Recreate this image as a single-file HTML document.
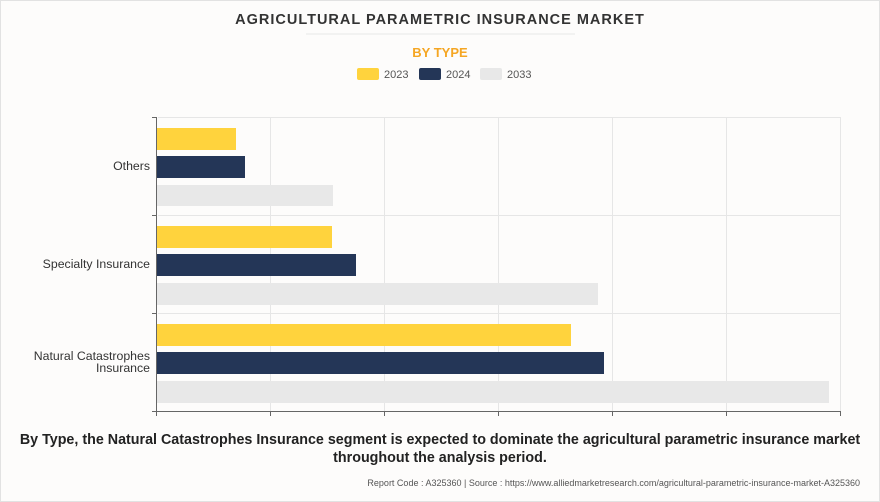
<!DOCTYPE html>
<html><head><style>
body{margin:0;background:#fff;}
.w{position:relative;width:878px;height:500px;border:1px solid #e2e2e2;background:#fdfcfb;font-family:"Liberation Sans",sans-serif;overflow:hidden}
</style></head><body><div class="w">
<svg width="878" height="500" xmlns="http://www.w3.org/2000/svg" style="position:absolute;left:0;top:0">
<text x="439" y="23" text-anchor="middle" font-size="14.5" font-weight="bold" fill="#333" letter-spacing="1" font-family="Liberation Sans">AGRICULTURAL PARAMETRIC INSURANCE MARKET</text>
<line x1="305" y1="33" x2="574" y2="33" stroke="#eee" stroke-width="1.5"/>
<text x="439" y="56" text-anchor="middle" font-size="13" font-weight="bold" fill="#f5a623" font-family="Liberation Sans">BY TYPE</text>
<rect x="356" y="67" width="22" height="12" rx="2" fill="#ffd33d"/><text x="383" y="77" font-size="11" fill="#555">2023</text>
<rect x="418" y="67" width="22" height="12" rx="2" fill="#243657"/><text x="445" y="77" font-size="11" fill="#555">2024</text>
<rect x="479" y="67" width="22" height="12" rx="2" fill="#e8e8e8"/><text x="506" y="77" font-size="11" fill="#555">2033</text>
<g stroke="#e6e6e6" stroke-width="1">
<line x1="269.5" y1="116" x2="269.5" y2="411"/><line x1="383.5" y1="116" x2="383.5" y2="411"/><line x1="497.5" y1="116" x2="497.5" y2="411"/><line x1="611.5" y1="116" x2="611.5" y2="411"/><line x1="725.5" y1="116" x2="725.5" y2="411"/><line x1="839.5" y1="116" x2="839.5" y2="411"/>
<line x1="157" y1="116.5" x2="840" y2="116.5"/><line x1="157" y1="214.5" x2="840" y2="214.5"/><line x1="157" y1="312.5" x2="840" y2="312.5"/>
</g>
<rect x="156" y="127" width="79" height="22" fill="#ffd33d"/>
<rect x="156" y="155" width="88" height="22" fill="#243657"/>
<rect x="156" y="184" width="176" height="21" fill="#e8e8e8"/>
<rect x="156" y="225" width="175" height="22" fill="#ffd33d"/>
<rect x="156" y="253" width="199" height="22" fill="#243657"/>
<rect x="156" y="282" width="441" height="22" fill="#e8e8e8"/>
<rect x="156" y="323" width="414" height="22" fill="#ffd33d"/>
<rect x="156" y="351" width="447" height="22" fill="#243657"/>
<rect x="156" y="380" width="672" height="22" fill="#e8e8e8"/>
<g stroke="#666" stroke-width="1">
<line x1="155.5" y1="116" x2="155.5" y2="411"/><line x1="155" y1="410.5" x2="840" y2="410.5"/>
<line x1="151" y1="116.5" x2="156" y2="116.5"/><line x1="151" y1="214.5" x2="156" y2="214.5"/><line x1="151" y1="312.5" x2="156" y2="312.5"/><line x1="151" y1="410.5" x2="156" y2="410.5"/>
<line x1="155.5" y1="410" x2="155.5" y2="415"/><line x1="269.5" y1="410" x2="269.5" y2="415"/><line x1="383.5" y1="410" x2="383.5" y2="415"/><line x1="497.5" y1="410" x2="497.5" y2="415"/><line x1="611.5" y1="410" x2="611.5" y2="415"/><line x1="725.5" y1="410" x2="725.5" y2="415"/><line x1="839.5" y1="410" x2="839.5" y2="415"/>
</g>
<g font-size="12.3" fill="#333" text-anchor="end">
<text x="149" y="169">Others</text>
<text x="149" y="267">Specialty Insurance</text>
<text x="149" y="359">Natural Catastrophes</text>
<text x="149" y="371">Insurance</text>
</g>
<text x="439" y="443" text-anchor="middle" font-size="14.3" font-weight="bold" fill="#222">By Type, the Natural Catastrophes Insurance segment is expected to dominate the agricultural parametric insurance market</text>
<text x="439" y="461" text-anchor="middle" font-size="14.3" font-weight="bold" fill="#222">throughout the analysis period.</text>
<text x="859" y="485" text-anchor="end" font-size="9" fill="#555">Report Code : A325360  |  Source : https://www.alliedmarketresearch.com/agricultural-parametric-insurance-market-A325360</text>
</svg></div></body></html>
